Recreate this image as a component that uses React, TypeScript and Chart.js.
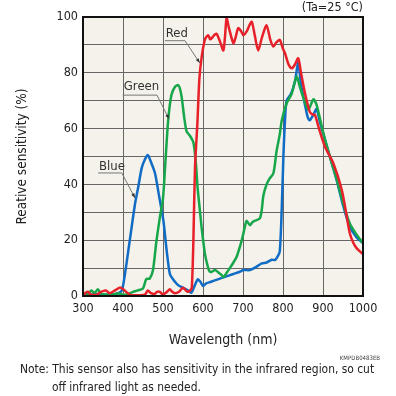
import React, { useEffect, useRef } from "react";
import { Chart, registerables } from "chart.js";
Chart.register(...registerables);

const redNm = [300, 305, 312, 320, 335, 345, 357, 367, 380, 392, 400, 412, 420, 440, 455, 462, 470, 479, 485, 492, 500, 510, 517, 523, 529, 540, 550, 557, 562, 568, 572, 576, 580, 586, 591, 597, 605, 613, 618, 622, 628, 634, 643, 651, 655, 659, 665, 676, 682, 688, 695, 701, 710, 716, 722, 730, 738, 748, 759, 768, 776, 784, 792, 799, 805, 814, 822, 830, 838, 845, 855, 867, 875, 880, 890, 905, 926, 947, 960, 967, 976, 985, 1000];
const redVal = [0, 1, 1.5, 0.5, 0.5, 1.5, 2, 1, 2, 3, 2.5, 1, 0.3, 0.3, 0.5, 2, 1, 0.7, 1.5, 1.5, 0.5, 1.5, 2.4, 1.5, 1, 1.5, 3, 2, 1.5, 2, 3, 20, 46, 62, 78, 86, 92, 93.5, 92, 92.4, 93.5, 94, 91, 88, 93, 99.5, 96, 90.6, 93, 96, 95, 93.5, 95, 97, 98.3, 93, 88, 93, 97, 92, 89.4, 91, 91.8, 89, 87, 83, 81.6, 83, 85.2, 80, 72.6, 66, 65, 64.9, 60, 53.5, 47.5, 38, 28, 22.5, 19, 17, 15];

const greenNm = [300, 310, 321, 329, 337, 346, 360, 375, 387, 400, 412, 425, 437, 450, 458, 467, 475, 483, 492, 500, 506, 513, 521, 530, 538, 542, 547, 553, 559, 567, 576, 582, 587, 592, 597, 605, 613, 617, 622, 630, 638, 647, 651, 660, 667, 676, 684, 697, 705, 709, 717, 724, 730, 742, 747, 751, 759, 766, 776, 784, 792, 797, 809, 822, 834, 842, 851, 863, 876, 884, 901, 917, 934, 951, 967, 984, 1000];
const greenVal = [1, 0.5, 2, 1, 2.4, 0.7, 0.5, 0.5, 1, 0.5, 0.6, 1.5, 2, 2.7, 6, 6.3, 9.3, 19, 28, 35, 48, 63, 72, 75, 75.6, 74.5, 71, 64, 59, 57.5, 55, 48, 38, 31, 24, 15, 10, 8.7, 8.7, 9.3, 8.5, 7.5, 6.7, 8.5, 10, 12, 14, 20, 25, 27, 25.4, 26.5, 27, 27.8, 31, 36, 40, 42, 44, 52, 58, 63, 69, 72.6, 78.6, 75, 71, 66.7, 70.5, 68.5, 58.3, 50, 42, 33, 26, 22, 19];

const blueNm = [300, 310, 320, 333, 350, 370, 385, 397, 405, 417, 430, 438, 447, 455, 462, 470, 480, 490, 501, 509, 517, 525, 537, 550, 562, 571, 580, 587, 594, 600, 608, 618, 626, 651, 676, 692, 701, 717, 734, 747, 759, 772, 780, 786, 792, 797, 801, 805, 809, 820, 830, 838, 845, 855, 862, 867, 876, 884, 892, 905, 917, 934, 951, 967, 984, 1000];
const blueVal = [0.5, 1, 0.5, 0.7, 0.5, 0.5, 0.8, 2, 8, 20, 33, 39, 46, 49, 50.5, 48, 44, 36, 27, 16.5, 8, 6, 4, 3, 2, 1.2, 4, 6, 5, 3.6, 4.5, 5, 5.4, 6.7, 7.9, 8.7, 9.3, 9.3, 10.5, 11.7, 12, 13, 12.9, 14, 16, 32, 50, 63, 70, 72.5, 77, 83.5, 76, 68.5, 64, 63, 65, 67, 62.5, 56, 50, 41.6, 32, 24.8, 21, 19];

const seriesNames = ["Red", "Green", "Blue"];
const seriesColors = ["#e8202a", "#17a64a", "#106cc4"];

// annotation anchors in data units
const annotations = [
  { name: "Red", tx: 507, ty: 94, ux: 555, uy: 91.5, px: 592, py: 83.5 },
  { name: "Green", tx: 402, ty: 75, ux: 485, uy: 72, px: 515, py: 63.4 },
  { name: "Blue", tx: 340, ty: 46.5, ux: 397, uy: 44.1, px: 430, py: 35.1 },
];

const FONT = "'DejaVu Sans Condensed', 'DejaVu Sans', sans-serif";

const toPts = (nm: number[], v: number[]) => nm.map((x, i) => ({ x, y: v[i] }));

const plugin = {
  id: "deco",
  beforeDraw(chart: any) {
    const { ctx, chartArea } = chart;
    ctx.save();
    ctx.fillStyle = "#f4f2ea";
    ctx.fillRect(chartArea.left, chartArea.top, chartArea.right - chartArea.left, chartArea.bottom - chartArea.top);
    ctx.restore();
  },
  afterDraw(chart: any) {
    const { ctx, chartArea, scales } = chart;
    const xs = scales.x, ys = scales.y;
    ctx.save();
    ctx.strokeStyle = "#111";
    ctx.lineWidth = 2;
    ctx.strokeRect(chartArea.left, chartArea.top, chartArea.right - chartArea.left, chartArea.bottom - chartArea.top);
    ctx.font = `13px ${FONT}`;
    ctx.textBaseline = "middle";
    ctx.textAlign = "left";
    for (const a of annotations) {
      const tx = xs.getPixelForValue(a.tx);
      const ty = ys.getPixelForValue(a.ty);
      ctx.fillStyle = "#333";
      ctx.fillText(a.name, tx, ty);
      const uy = ys.getPixelForValue(a.uy);
      const ux = xs.getPixelForValue(a.ux);
      const px = xs.getPixelForValue(a.px);
      const py = ys.getPixelForValue(a.py);
      ctx.strokeStyle = "#777";
      ctx.lineWidth = 1;
      ctx.beginPath();
      ctx.moveTo(tx - 1, uy);
      ctx.lineTo(ux, uy);
      ctx.lineTo(px, py);
      ctx.stroke();
      const ang = Math.atan2(py - uy, px - ux);
      ctx.beginPath();
      ctx.moveTo(px, py);
      ctx.lineTo(px - 5 * Math.cos(ang - 0.35), py - 5 * Math.sin(ang - 0.35));
      ctx.lineTo(px - 5 * Math.cos(ang + 0.35), py - 5 * Math.sin(ang + 0.35));
      ctx.closePath();
      ctx.fill();
    }
    ctx.restore();
  },
};

export default function App() {
  const ref = useRef<HTMLCanvasElement>(null);
  useEffect(() => {
    if (!ref.current) return;
    const data = [toPts(redNm, redVal), toPts(greenNm, greenVal), toPts(blueNm, blueVal)];
    const chart = new Chart(ref.current, {
      type: "line",
      data: {
        datasets: seriesNames.map((n, i) => ({
          label: n,
          data: data[i],
          borderColor: seriesColors[i],
          borderWidth: 2.5,
          pointRadius: 0,
          tension: 0.25,
          fill: false,
        })),
      },
      options: {
        responsive: false,
        animation: false,
        layout: { padding: { left: 0, top: 17, right: 33, bottom: 45 } },
        plugins: { legend: { display: false }, tooltip: { enabled: false } },
        scales: {
          x: {
            type: "linear",
            min: 300,
            max: 1000,
            afterFit: (s: any) => { s.height = 55; },
            ticks: { stepSize: 100, color: "#222", font: { family: FONT, size: 12.5 }, padding: 5, maxRotation: 0, callback: (v: any) => String(v) },
            grid: { color: "#666", lineWidth: 1, drawTicks: false },
            border: { display: false },
          },
          y: {
            min: 0,
            max: 100,
            afterFit: (s: any) => { s.width = 83; },
            ticks: {
              stepSize: 10,
              color: "#222",
              font: { family: FONT, size: 12.5 },
              padding: 5,
              callback: (v: any) => (v % 20 === 0 ? String(v) : ""),
            },
            grid: { color: "#666", lineWidth: 1, drawTicks: false },
            border: { display: false },
            title: { display: true, text: "Reative sensitivity (%)", color: "#222", font: { family: FONT, size: 13.5 }, padding: { top: 14, bottom: 0 } },
          },
        },
      },
      plugins: [plugin],
    } as any);
    return () => chart.destroy();
  }, []);

  const txt: React.CSSProperties = { position: "absolute", fontFamily: FONT, color: "#222", whiteSpace: "nowrap", lineHeight: 1 };
  return (
    <div style={{ position: "fixed", left: 0, top: 0, width: 396, height: 396, background: "#fff" }}>
      <canvas ref={ref} width={396} height={396} style={{ position: "absolute", left: 0, top: 0 }} />
      <div style={{ ...txt, right: 33, top: 1, fontSize: 12.5 }}>(Ta=25 °C)</div>
      <div style={{ ...txt, left: 83, width: 280, top: 332, fontSize: 14, textAlign: "center" }}>Wavelength (nm)</div>
      <div style={{ ...txt, right: 16, top: 355, fontSize: 6, color: "#444" }}>KMPDB0483EB</div>
      <div style={{ ...txt, left: 20, top: 364, fontSize: 11.9 }}>Note: This sensor also has sensitivity in the infrared region, so cut</div>
      <div style={{ ...txt, left: 52, top: 382, fontSize: 11.9 }}>off infrared light as needed.</div>
    </div>
  );
}
